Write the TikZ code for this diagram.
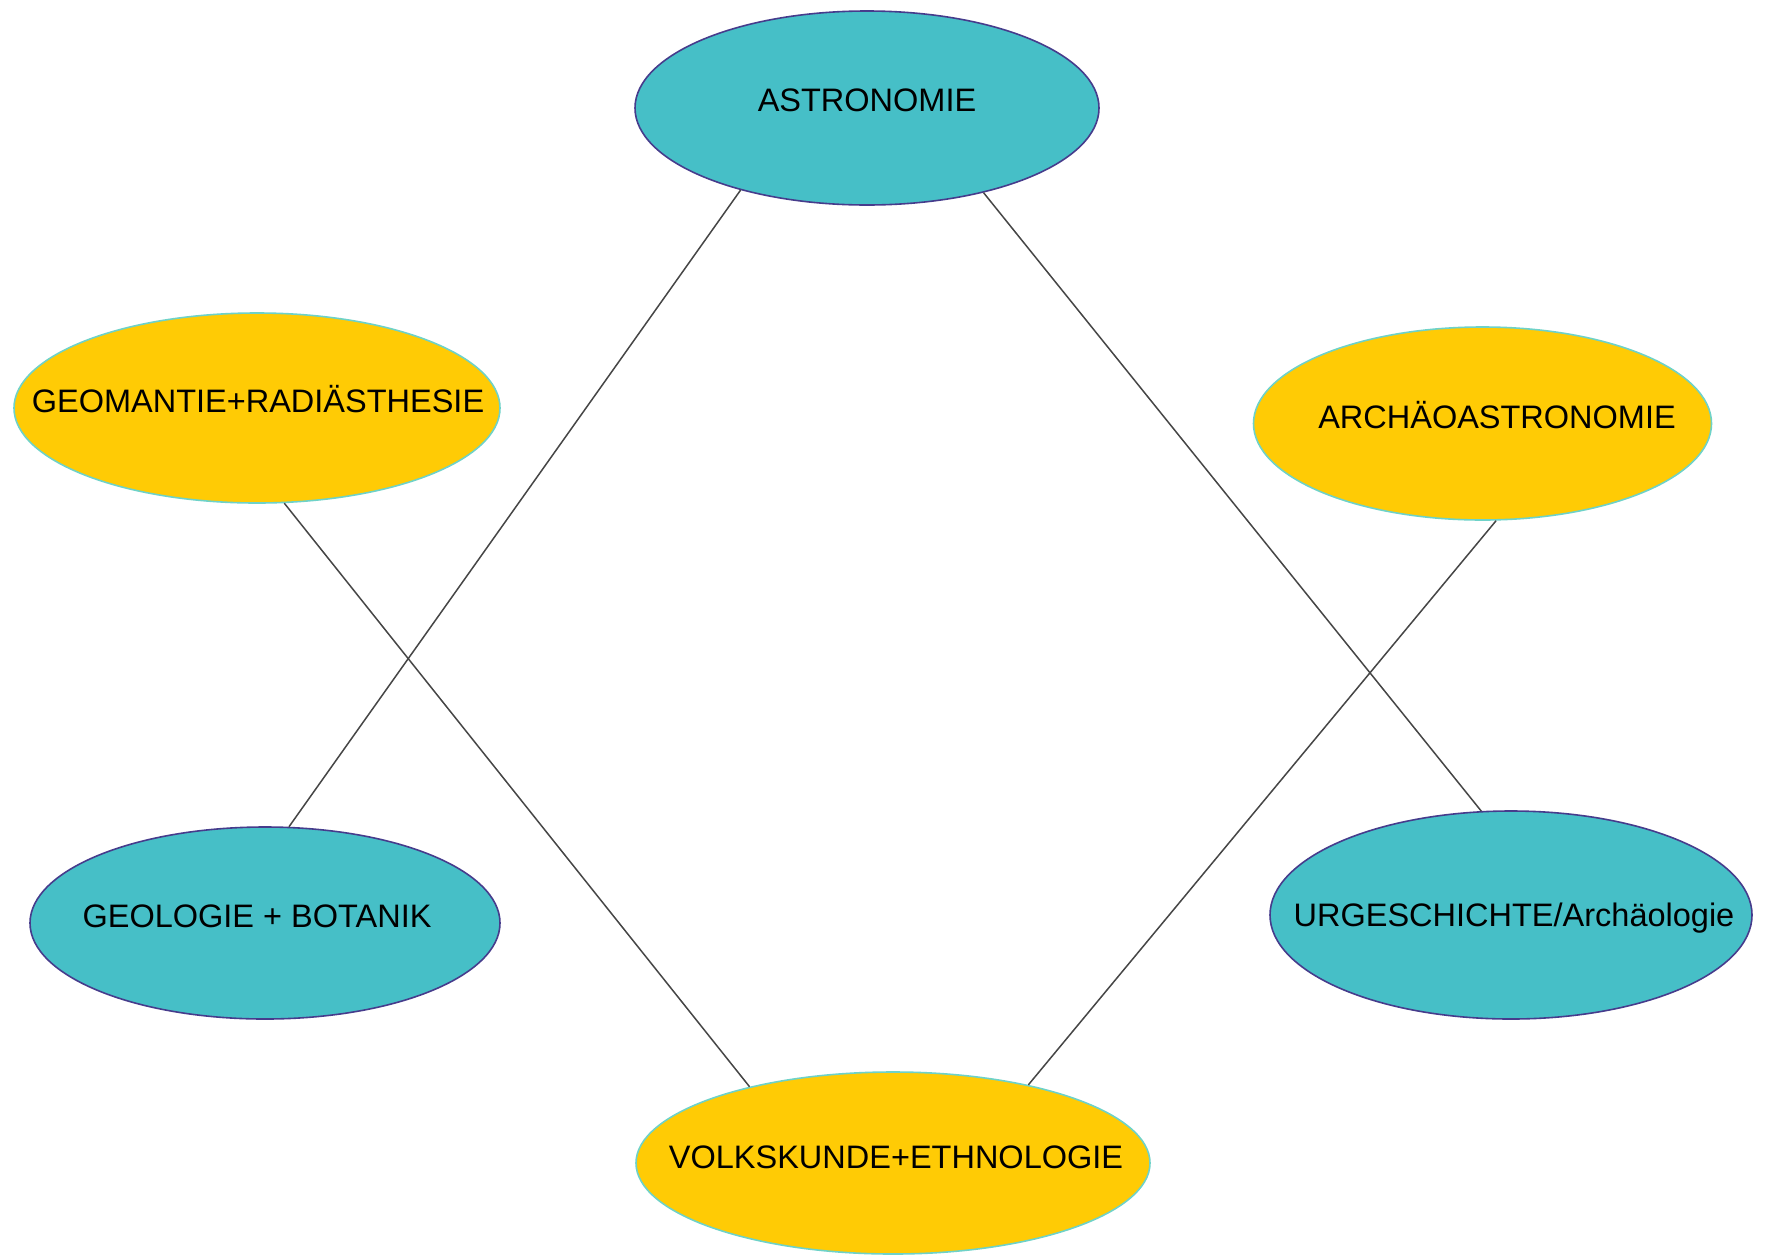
\documentclass[tikz,border=0pt]{standalone}
\usepackage{fontspec}
\setmainfont{Liberation Sans}
\usetikzlibrary{shapes.geometric}
\definecolor{tealfill}{RGB}{70,191,199}
\definecolor{tealedge}{RGB}{70,60,140}
\definecolor{yellowfill}{RGB}{255,203,5}
\definecolor{yellowedge}{RGB}{110,210,200}
\definecolor{linkgray}{RGB}{70,70,70}
\tikzset{
  blob/.style={ellipse, inner sep=0pt, line width=1.6pt},
  tealblob/.style={blob, fill=tealfill, draw=tealedge},
  yellowblob/.style={blob, fill=yellowfill, draw=yellowedge},
  label/.style={anchor=base, inner sep=0pt, font=\fontsize{32.5}{38}\selectfont, text=black},
  link/.style={draw=linkgray, line width=1.5pt}
}
\begin{document}
\begin{tikzpicture}[x=1pt,y=-1pt]
\fill[white] (0,0) rectangle (1769,1259);
\useasboundingbox (0,0) rectangle (1769,1259);

\node[tealblob, minimum width=464pt, minimum height=194pt] (astro) at (867,108) {};
\node[yellowblob, minimum width=486pt, minimum height=190pt] (geom) at (257,408) {};
\node[yellowblob, minimum width=458pt, minimum height=193pt] (archaeo) at (1482.5,423.5) {};
\node[tealblob, minimum width=470pt, minimum height=192pt] (geol) at (265,923) {};
\node[tealblob, minimum width=482pt, minimum height=208pt] (urg) at (1511,915) {};
\node[yellowblob, minimum width=514pt, minimum height=182pt] (volk) at (893,1163) {};

\node[label] (tastro) at (867,111.5) {ASTRONOMIE};
\node[label] (tgeom) at (258,412) {GEOMANTIE+RADIÄSTHESIE};
\node[label] (tarchaeo) at (1497,428.5) {ARCHÄOASTRONOMIE};
\node[label] (tgeol) at (257,927) {GEOLOGIE + BOTANIK};
\node[label] (turg) at (1514,926) {URGESCHICHTE/Archäologie};
\node[label] (tvolk) at (896,1168) {VOLKSKUNDE+ETHNOLOGIE};

\draw[link] (astro.213) -- (geol.76.5);
\draw[link] (astro.324.6) -- (urg.106.6);
\draw[link] (geom.286) -- (volk.152.1);
\draw[link] (archaeo.278.3) -- (volk.30.65);
\end{tikzpicture}
\end{document}
